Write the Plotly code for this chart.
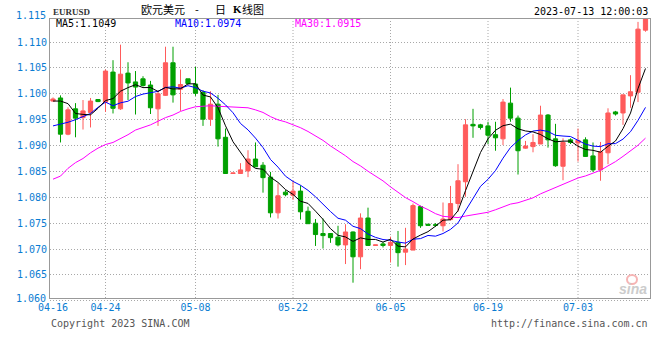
import plotly.graph_objects as go

# ---------------- data ----------------
tick_labels = ["04-16", "04-24", "05-08", "05-22", "06-05", "06-19", "07-03"]
tick_index = [0, 7, 19, 32, 45, 58, 70]

opens = [1.0986, 1.0992, 1.0922, 1.0971, 1.0954, 1.0964, 1.0989, 1.0984, 1.1042, 1.0971,
         1.1040, 1.1023, 1.1029, 1.1017, 1.0971, 1.0997, 1.1060, 1.1009, 1.1029, 1.1019,
         1.1003, 1.0951, 1.0980, 1.0916, 1.0846, 1.0846, 1.0851, 1.0874, 1.0862, 1.0839,
         1.0770, 1.0810, 1.0804, 1.0812, 1.0773, 1.0750, 1.0730, 1.0730, 1.0723, 1.0708,
         1.0733, 1.0685, 1.0760, 1.0707, 1.0710, 1.0707, 1.0713, 1.0694, 1.0698, 1.0782,
         1.0748, 1.0747, 1.0745, 1.0757, 1.0788, 1.0830, 1.0941, 1.0940, 1.0938, 1.0921,
         1.0913, 1.0982, 1.0953, 1.0895, 1.0898, 1.0903, 1.0959, 1.0913, 1.0860, 1.0911,
         1.0905, 1.0911, 1.0880, 1.0853, 1.0886, 1.0965, 1.0963, 1.0996, 1.1003, 1.1123]
highs = [1.0993, 1.0997, 1.0974, 1.0982, 1.0988, 1.0992, 1.0990, 1.1047, 1.1065, 1.1095,
         1.1061, 1.1044, 1.1034, 1.1025, 1.1006, 1.1091, 1.1091, 1.1047, 1.1029, 1.1052,
         1.1007, 1.1005, 1.0998, 1.0933, 1.0847, 1.0866, 1.0891, 1.0906, 1.0868, 1.0849,
         1.0827, 1.0814, 1.0832, 1.0823, 1.0782, 1.0758, 1.0759, 1.0730, 1.0745, 1.0748,
         1.0734, 1.0769, 1.0780, 1.0708, 1.0714, 1.0724, 1.0735, 1.0741, 1.0788, 1.0784,
         1.0748, 1.0750, 1.0790, 1.0822, 1.0864, 1.0951, 1.0971, 1.0942, 1.0946, 1.0946,
         1.0990, 1.1012, 1.0958, 1.0909, 1.0922, 1.0977, 1.0961, 1.0942, 1.0914, 1.0914,
         1.0933, 1.0916, 1.0906, 1.0907, 1.0972, 1.0967, 1.0998, 1.1036, 1.1139, 1.1160]
lows = [1.0985, 1.0906, 1.0920, 1.0916, 1.0931, 1.0935, 1.0984, 1.0965, 1.0962, 1.0969,
        1.0988, 1.0960, 1.1014, 1.0961, 1.0938, 1.0996, 1.0983, 1.0967, 1.1018, 1.0996,
        1.0938, 1.0938, 1.0898, 1.0846, 1.0846, 1.0846, 1.0839, 1.0858, 1.0809, 1.0761,
        1.0759, 1.0802, 1.0795, 1.0757, 1.0749, 1.0706, 1.0701, 1.0712, 1.0705, 1.0671,
        1.0635, 1.0661, 1.0706, 1.0707, 1.0703, 1.0674, 1.0666, 1.0669, 1.0698, 1.0741,
        1.0746, 1.0743, 1.0734, 1.0755, 1.0772, 1.0801, 1.0915, 1.0931, 1.0903, 1.0890,
        1.0901, 1.0946, 1.0844, 1.0894, 1.0887, 1.0903, 1.0896, 1.0859, 1.0833, 1.0903,
        1.0869, 1.0878, 1.0849, 1.0832, 1.0864, 1.0958, 1.0940, 1.0973, 1.0984, 1.1120]
closes = [1.0990, 1.0922, 1.0969, 1.0953, 1.0967, 1.0986, 1.0985, 1.1044, 1.0972, 1.1038,
          1.1021, 1.1013, 1.1016, 1.0973, 1.1000, 1.1060, 1.0998, 1.1018, 1.1020, 1.1001,
          1.0951, 1.0980, 1.0913, 1.0846, 1.0847, 1.0853, 1.0874, 1.0859, 1.0838, 1.0770,
          1.0803, 1.0805, 1.0812, 1.0772, 1.0749, 1.0728, 1.0726, 1.0722, 1.0708, 1.0733,
          1.0685, 1.0760, 1.0707, 1.0708, 1.0707, 1.0713, 1.0693, 1.0700, 1.0784, 1.0745,
          1.0746, 1.0746, 1.0758, 1.0788, 1.0832, 1.0940, 1.0938, 1.0935, 1.0920, 1.0915,
          1.0984, 1.0953, 1.0890, 1.0899, 1.0906, 1.0959, 1.0911, 1.0861, 1.0906, 1.0906,
          1.0910, 1.0879, 1.0853, 1.0888, 1.0963, 1.0961, 1.0998, 1.1004, 1.1125, 1.1157]

# moving-average values before a full window is available
ma5_head = [1.0986, 1.0986, 1.0981, 1.0962]
ma10_head = [1.0938, 1.0941, 1.0945, 1.0950, 1.0956, 1.0962, 1.0974, 1.0984, 1.0977]
ma30_head = [1.0835, 1.0841, 1.0856, 1.0867, 1.0875, 1.0886, 1.0895, 1.0902, 1.0906,
             1.0913, 1.0921, 1.0930, 1.0935, 1.0940, 1.0947, 1.0954, 1.0959, 1.0966,
             1.0971, 1.0975, 1.0976, 1.0977, 1.0976, 1.0975, 1.0975, 1.0974, 1.0973,
             1.0969, 1.0964]

ma_labels = ["MA5:1.1049", "MA10:1.0974", "MA30:1.0915"]
y_ticks = [1.065, 1.070, 1.075, 1.080, 1.085, 1.090, 1.095, 1.100, 1.105, 1.110]
y_edge_labels = ["1.115", "1.060"]
title_parts = ["欧元美元", "-", "日", "K", "线图"]
timestamp = "2023-07-13 12:00:03"


def moving_avg(values, n, head):
    out = list(head)
    for i in range(n - 1, len(values)):
        out.append(sum(values[i - n + 1:i + 1]) / n)
    return out


x = list(range(len(closes)))
ma5 = moving_avg(closes, 5, ma5_head)
ma10 = moving_avg(closes, 10, ma10_head)
ma30 = moving_avg(closes, 30, ma30_head)

# ---------------- styling ----------------
W, H = 660, 360
L, R, T, B = 50, 650, 19, 298
MONO = "DejaVu Sans Mono"
AXIS_BLUE = "#0a7cd2"
RED = "#ff5b5b"
GREEN = "#00a000"
GRID = "#a8a8a8"


def px(xp):
    return (xp - L) / (R - L)


def py(yp):
    return (B - yp) / (B - T)


fig = go.Figure()
fig.add_trace(go.Candlestick(
    x=x, open=opens, high=highs, low=lows, close=closes,
    increasing=dict(line=dict(color=RED, width=1), fillcolor=RED),
    decreasing=dict(line=dict(color=GREEN, width=1), fillcolor=GREEN),
    whiskerwidth=0, showlegend=False, hoverinfo="skip"))
for vals, col in [(ma30, "#ff00ff"), (ma10, "#0000ff"), (ma5, "#000000")]:
    fig.add_trace(go.Scatter(x=x, y=vals, mode="lines",
                             line=dict(color=col, width=1),
                             showlegend=False, hoverinfo="skip"))

shapes = []
for idx in tick_index[1:]:
    shapes.append(dict(type="line", xref="x", yref="paper", x0=idx, x1=idx,
                       y0=0, y1=1, layer="below",
                       line=dict(color=GRID, width=1, dash="1px,2px")))
# dotted line under the bottom axis
shapes.append(dict(type="line", xref="paper", yref="paper", x0=0, x1=1,
                   y0=py(300.5), y1=py(300.5),
                   line=dict(color=GRID, width=1, dash="1px,2px")))
# faint sina eye logo
shapes.append(dict(type="circle", xref="paper", yref="paper",
                   x0=px(627), x1=px(637), y0=py(284), y1=py(275),
                   line=dict(color="#f6b4b4", width=2)))

ann = []


def add_text(text, xp, yp, anchor, color, size, family=MONO, **kw):
    ann.append(dict(text=text, x=px(xp), y=py(yp), xref="paper", yref="paper",
                    xanchor=anchor, yanchor="middle", showarrow=False,
                    font=dict(family=family, size=size, color=color), **kw))


add_text(y_edge_labels[0], 47.5, 15.8, "right", AXIS_BLUE, 10)
add_text(y_edge_labels[1], 47.5, 298.3, "right", AXIS_BLUE, 10)
add_text("<b>EURUSD</b>", 51, 12.3, "left", "#333333", 9, family="Liberation Serif")
cjk = "Noto Sans CJK SC"
add_text(title_parts[0], 138.5, 9.5, "left", "#000000", 11, family=cjk)
add_text(title_parts[1], 196.7, 9.5, "center", "#000000", 11, family=cjk)
add_text(title_parts[2], 212.5, 9.5, "left", "#000000", 11, family=cjk)
add_text("<b>" + title_parts[3] + "</b>", 230.5, 9.5, "left", "#000000", 11, family="Liberation Serif")
add_text(title_parts[4], 239.5, 9.5, "left", "#000000", 11, family=cjk)
add_text(timestamp, 650, 11.7, "right", "#000000", 10)
add_text(ma_labels[0], 54, 24, "left", "#000000", 10)
add_text(ma_labels[1], 173, 24, "left", "#0000ff", 10)
add_text(ma_labels[2], 293.3, 24, "left", "#ff00ff", 10)
add_text("Copyright 2023 SINA.COM", 48.5, 323.3, "left", "#555555", 10)
add_text("http://finance.sina.com.cn", 650, 323.3, "right", "#555555", 10)
add_text("<b><i>sina</i></b>", 633, 289, "center", "#cccccc", 14, family="Liberation Sans")

fig.update_layout(
    width=W, height=H,
    margin=dict(l=L, r=W - R, t=T, b=H - B, pad=0),
    paper_bgcolor="white", plot_bgcolor="white",
    boxgap=0.2,
    showlegend=False,
    shapes=shapes, annotations=ann,
    xaxis=dict(range=[-0.4, 79.6], tickmode="array", tickvals=tick_index,
               ticktext=tick_labels, showgrid=False, zeroline=False,
               showline=True, mirror=True, linecolor="#999999", linewidth=1,
               ticks="", tickfont=dict(family=MONO, size=10, color=AXIS_BLUE),
               rangeslider=dict(visible=False), fixedrange=True),
    yaxis=dict(range=[1.06054, 1.11446], tickmode="array", tickvals=y_ticks,
               ticktext=["%.3f" % v for v in y_ticks],
               showgrid=True, gridcolor=GRID, griddash="1px,2px", gridwidth=1,
               zeroline=False, showline=True, mirror=True, linecolor="#999999",
               linewidth=1, ticks="",
               tickfont=dict(family=MONO, size=10, color=AXIS_BLUE),
               fixedrange=True),
)

fig.write_html("out.html", config=dict(displayModeBar=False),
               post_script="document.body.style.margin='0';document.body.style.padding='0';")
